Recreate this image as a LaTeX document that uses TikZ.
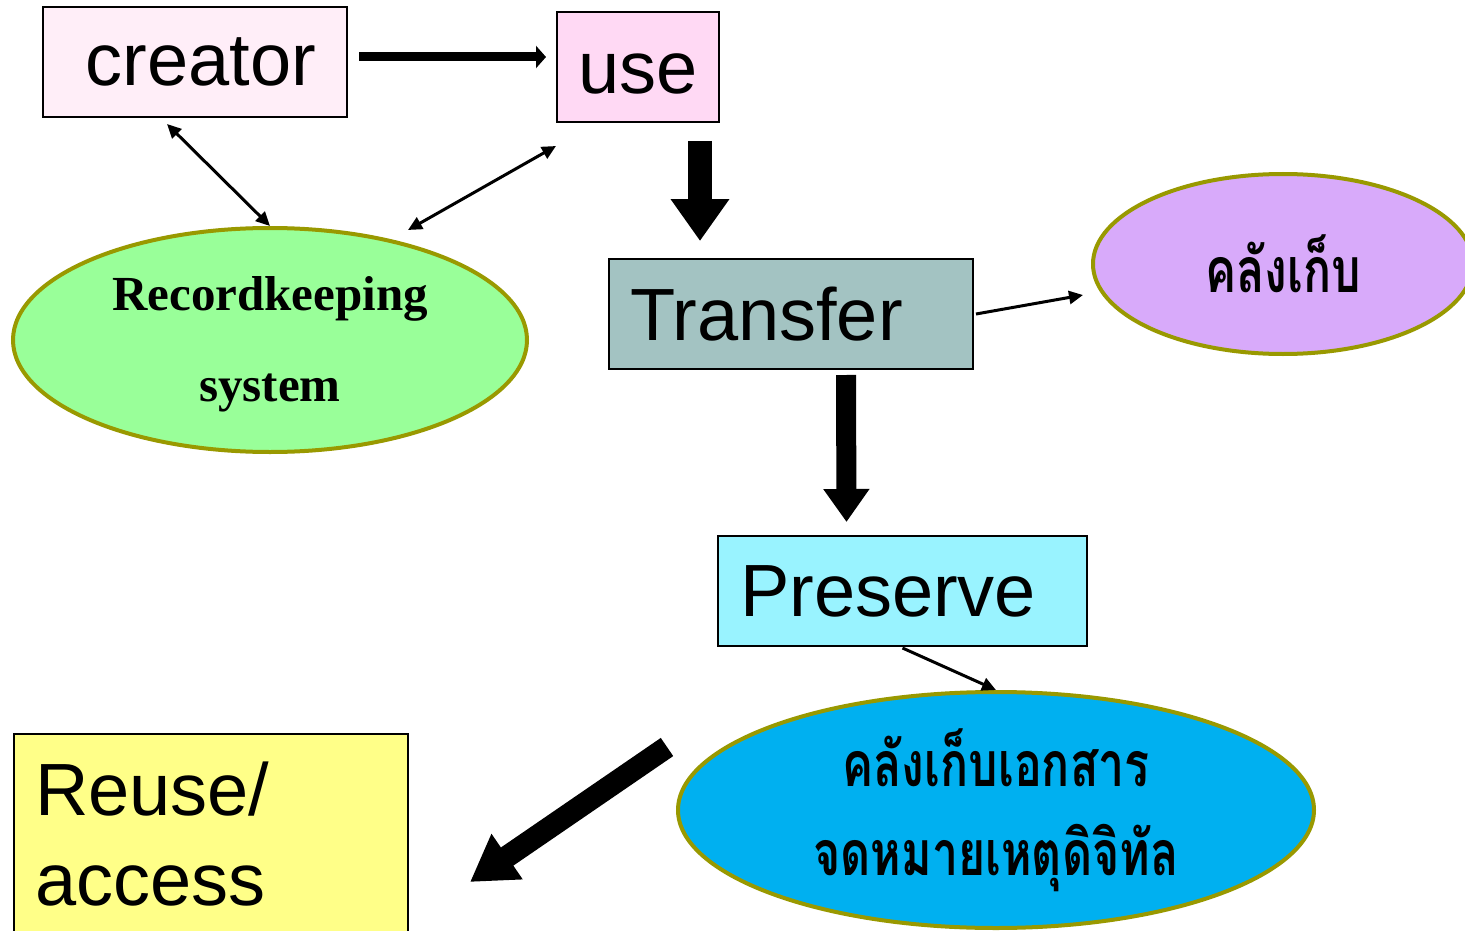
\documentclass[tikz,border=0pt]{standalone}
\usepackage{fontspec}
\usepackage{graphicx}
\newfontfamily\arialf{Liberation Sans}
\newfontfamily\timesf{Liberation Serif}
\newfontfamily\thaif[Script=Thai]{Loma}
\newcommand{\thaisq}[1]{\scalebox{0.93}[1.25]{#1}}
\usetikzlibrary{shapes.geometric,arrows.meta}
\definecolor{creatorc}{HTML}{FFEEF8}
\definecolor{usec}{HTML}{FFD9F4}
\definecolor{transferc}{HTML}{A3C3C2}
\definecolor{preservec}{HTML}{99F3FF}
\definecolor{reusec}{HTML}{FFFF88}
\definecolor{rkc}{HTML}{99FF99}
\definecolor{klc}{HTML}{D8AAFA}
\definecolor{archc}{HTML}{00B0F0}
\definecolor{olivec}{HTML}{999900}
\begin{document}
\begin{tikzpicture}[x=1pt,y=-1pt,
  box/.style={draw=black, line width=2pt, inner sep=0pt,
    font=\arialf\fontsize{74}{90}\selectfont},
  oval/.style={ellipse, draw=olivec, line width=4pt, inner sep=0pt},
  thinarrow/.style={line width=3pt, -{Triangle[length=14pt,width=13pt]}},
  thinboth/.style={line width=3pt, {Triangle[length=14pt,width=13pt]}-{Triangle[length=14pt,width=13pt]}},
  midarrow/.style={line width=9pt, -{Triangle[length=10pt,width=22pt]}},
  bigarrow/.style={line width=24pt, -{Triangle[length=42pt,width=56pt]}},
  bigarrowb/.style={line width=20pt, -{Triangle[length=33pt,width=44pt]}},
  thaitext/.style={font=\thaif\bfseries\fontsize{50}{89}\selectfont, align=center}
]
\useasboundingbox (0,0) rectangle (1465,931);
\clip (0,0) rectangle (1465,931);
\fill[white] (0,0) rectangle (1465,931);

\node[box, fill=creatorc, minimum width=304, minimum height=110] (creator) at (195,62) {\hspace*{12pt}creator};
\node[box, fill=usec, minimum width=162, minimum height=110, text height=53pt] (use) at (638,67) {use};
\node[box, fill=transferc, minimum width=364, minimum height=110, text width=322, inner xsep=21, align=left] (transfer) at (791,314) {Transfer};
\node[box, fill=preservec, minimum width=369, minimum height=110, text width=325, inner xsep=22, align=left] (preserve) at (902.5,591) {Preserve};
\node[box, fill=reusec, anchor=north west, text width=352, inner xsep=21, inner ysep=28, align=left] (reuse) at (13,733) {Reuse/\\access};

\node[oval, fill=rkc, minimum width=514, minimum height=224, align=center,
  font=\timesf\bfseries\fontsize{49}{91}\selectfont] (rk) at (270,340) {\rule{0pt}{43pt}Recordkeeping\\system};
\node[oval, fill=klc, minimum width=380, minimum height=180, thaitext] (kl) at (1283,264) {\thaisq{คลังเก็บ}};
\node[oval, fill=archc, minimum width=636, minimum height=236, thaitext] (arch) at (996,810) {\thaisq{คลังเก็บเอกสาร}\\\thaisq{จดหมายเหตุดิจิทัล}};

\draw[midarrow] ([xshift=11pt,yshift=5pt]creator.east) -- ([xshift=-10pt,yshift=10pt]use.west);
\draw[thinboth] ([xshift=-28pt,yshift=-6pt]creator.south) -- (rk.north);
\draw[thinboth] ([yshift=-23pt]use.south west) -- ([xshift=138pt,yshift=110pt]rk.center);
\draw[bigarrow] ([xshift=62pt,yshift=-18pt]use.south) -- ([xshift=-91pt,yshift=17pt]transfer.north);
\draw[thinarrow] ([xshift=2pt]transfer.east) -- ([xshift=-8pt,yshift=-31pt]kl.west);
\draw[bigarrowb] ([xshift=55pt,yshift=-5pt]transfer.south) -- ([xshift=-56pt,yshift=13pt]preserve.north);
\draw[thinarrow] ([yshift=-1pt]preserve.south) -- (arch.north);
\draw[bigarrow, line width=22pt, -{Triangle[length=45pt,width=52pt]}] ([xshift=-9pt,yshift=63pt]arch.west) -- ([xshift=61pt,yshift=-149pt]reuse.north east);
\end{tikzpicture}
\end{document}
